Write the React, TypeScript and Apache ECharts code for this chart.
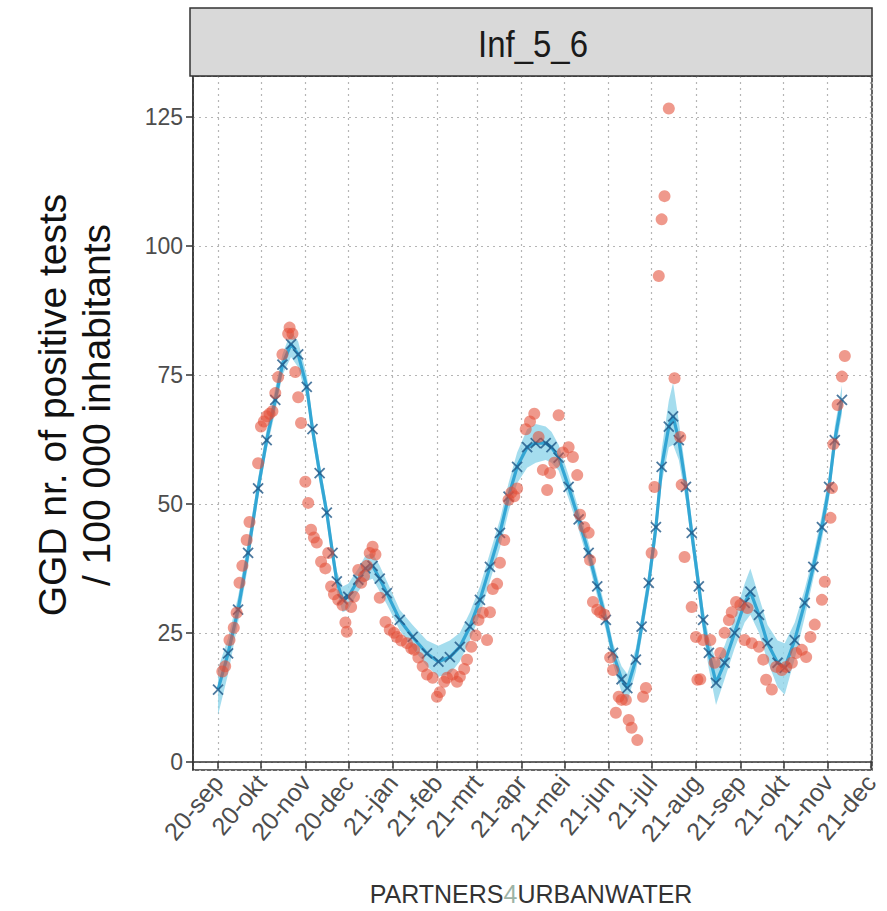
import React, { useEffect, useRef } from "react";
import * as echarts from "echarts";

// ---------- data ----------
const MONTHS = ["jan", "feb", "mrt", "apr", "mei", "jun", "jul", "aug", "sep", "okt", "nov", "dec"];
const yTickValues = [0, 25, 50, 75, 100, 125];
const panelTitle = "Inf_5_6";
const yTitle = "GGD nr. of positive tests\n/ 100 000 inhabitants";

// observed GGD values (red dots)
const obsDates = [
  "2020-09-04", "2020-09-06", "2020-09-09", "2020-09-12", "2020-09-14", "2020-09-16", "2020-09-18", "2020-09-21",
  "2020-09-23", "2020-09-29", "2020-10-01", "2020-10-03", "2020-10-05", "2020-10-07", "2020-10-09", "2020-10-11",
  "2020-10-13", "2020-10-16", "2020-10-20", "2020-10-21", "2020-10-23", "2020-10-25", "2020-10-27", "2020-10-29",
  "2020-11-01", "2020-11-03", "2020-11-05", "2020-11-07", "2020-11-09", "2020-11-12", "2020-11-15", "2020-11-17",
  "2020-11-19", "2020-11-21", "2020-11-24", "2020-11-27", "2020-11-29", "2020-11-30", "2020-12-03", "2020-12-05",
  "2020-12-08", "2020-12-10", "2020-12-12", "2020-12-14", "2020-12-16", "2020-12-18", "2020-12-20", "2020-12-23",
  "2020-12-27", "2020-12-30", "2021-01-02", "2021-01-04", "2021-01-07", "2021-01-11", "2021-01-14", "2021-01-16",
  "2021-01-19", "2021-01-22", "2021-01-25", "2021-01-29", "2021-02-01", "2021-02-03", "2021-02-06", "2021-02-08",
  "2021-02-12", "2021-02-15", "2021-02-17", "2021-02-20", "2021-02-22", "2021-02-25", "2021-02-28", "2021-03-02",
  "2021-03-05", "2021-03-08", "2021-03-10", "2021-03-12", "2021-03-15", "2021-03-17", "2021-03-20", "2021-03-23",
  "2021-03-25", "2021-03-27", "2021-03-29", "2021-04-04", "2021-04-07", "2021-04-10", "2021-04-13", "2021-04-16",
  "2021-04-19", "2021-04-21", "2021-04-24", "2021-04-27", "2021-04-30", "2021-05-04", "2021-05-07", "2021-05-10",
  "2021-05-12", "2021-05-15", "2021-05-18", "2021-05-19", "2021-05-21", "2021-05-24", "2021-05-26", "2021-05-29",
  "2021-06-02", "2021-06-04", "2021-06-06", "2021-06-08", "2021-06-10", "2021-06-13", "2021-06-15", "2021-06-17",
  "2021-06-21", "2021-06-25", "2021-06-27", "2021-07-01", "2021-07-03", "2021-07-06", "2021-07-08", "2021-07-10",
  "2021-07-13", "2021-07-17", "2021-07-21", "2021-07-22", "2021-07-24", "2021-07-29", "2021-08-01", "2021-08-02",
  "2021-08-04", "2021-08-06", "2021-08-11", "2021-08-14", "2021-08-18", "2021-08-21", "2021-08-24", "2021-08-26",
  "2021-08-29", "2021-09-01", "2021-09-04", "2021-09-06", "2021-09-09", "2021-09-14", "2021-09-17", "2021-09-19",
  "2021-09-23", "2021-09-26", "2021-09-30", "2021-10-03", "2021-10-07", "2021-10-10", "2021-10-14", "2021-10-17",
  "2021-10-20", "2021-10-23", "2021-10-28", "2021-10-30", "2021-11-03", "2021-11-04", "2021-11-05", "2021-11-08",
  "2021-11-11", "2021-11-13",
];
const obsValues = [
  17.5, 18.5, 23.6, 26, 28.9, 34.7, 38, 43,
  46.5, 57.9, 65, 66, 67, 67.5, 68, 71.5,
  74.6, 79, 83, 84.2, 83, 75.6, 70.7, 65.7,
  54.3, 50.2, 45, 43.5, 42.5, 38.8, 37.5, 40.5,
  34, 32.5, 31.4, 30.4, 27, 25.2, 30, 32,
  37.2, 34.7, 36, 38, 40.5, 41.7, 40.2, 31.8,
  27.1, 25.6, 25, 24.2, 23.5, 23, 22, 21.7,
  20.2, 18.5, 16.9, 16.3, 12.6, 13.5, 15.5, 16.3,
  16.9, 15.5, 16.5, 18, 19.8, 22.3, 24.5, 27.5,
  28.9, 23.6, 29, 33.5, 34.5, 38.6, 43, 50.8,
  52.2, 51.5, 53, 64.5, 66, 67.5, 63, 56.6,
  52.7, 56, 58, 67.2, 60, 61, 59.1, 55.6,
  47.9, 45.5, 44.4, 39.1, 31, 29.5, 29, 28.5,
  20.2, 17.8, 9.5, 12.6, 12, 12, 8.1, 6.6,
  4.2, 12.6, 14.3, 40.5, 53.3, 94.2, 105.2, 109.7,
  126.7, 74.4, 63, 53.7, 39.7, 30, 24.2, 15.9,
  16, 23.6, 23.6, 19.2, 21.1, 25, 27.5, 29,
  31, 30.4, 23.6, 29.8, 23, 22.3, 19.8, 15.9,
  14, 18.4, 17.8, 18.4, 19.2, 21.1, 21.7, 20.3,
  24.2, 26.6, 31.4, 34.9, 47.3, 53.1, 61.6, 69.2,
  74.7, 78.7,
];

// model fit (blue line with crosses) and its uncertainty band
const modelDates = [
  "2020-09-01", "2020-09-08", "2020-09-15", "2020-09-22", "2020-09-29", "2020-10-05", "2020-10-11", "2020-10-16",
  "2020-10-22", "2020-10-27", "2020-11-02", "2020-11-06", "2020-11-11", "2020-11-16", "2020-11-20", "2020-11-23",
  "2020-11-27", "2020-12-01", "2020-12-08", "2020-12-13", "2020-12-18", "2020-12-23", "2020-12-28", "2021-01-06",
  "2021-01-15", "2021-01-25", "2021-02-02", "2021-02-10", "2021-02-17", "2021-02-24", "2021-03-03", "2021-03-10",
  "2021-03-17", "2021-03-23", "2021-03-29", "2021-04-05", "2021-04-11", "2021-04-18", "2021-04-22", "2021-04-27",
  "2021-05-04", "2021-05-11", "2021-05-18", "2021-05-24", "2021-05-30", "2021-06-04", "2021-06-10", "2021-06-14",
  "2021-06-20", "2021-06-24", "2021-06-29", "2021-07-04", "2021-07-08", "2021-07-13", "2021-07-16", "2021-07-20",
  "2021-07-25", "2021-07-29", "2021-08-03", "2021-08-06", "2021-08-10", "2021-08-15", "2021-08-21", "2021-08-28",
  "2021-09-04", "2021-09-08", "2021-09-14", "2021-09-20", "2021-09-27", "2021-10-02", "2021-10-09", "2021-10-16",
  "2021-10-22", "2021-10-28", "2021-11-02", "2021-11-06", "2021-11-11",
];
const modelValues = [
  14, 21, 29.5, 40.5, 53, 62.4, 70.2, 77,
  81, 79, 72.7, 64.5, 56, 48.3, 40.5, 35,
  31.5, 32, 35.3, 37.5, 38, 35.5, 32.7, 27.5,
  24.2, 21, 19.4, 20.3, 22.3, 26.2, 31.4, 37.8,
  44.4, 51.4, 57.2, 61, 61.8, 61.8, 61, 59,
  53.3, 47, 40.5, 34, 27.5, 21.1, 16, 14.3,
  19.8, 26.2, 34.7, 45.5, 57.2, 65, 67, 62.4,
  53.3, 44.4, 34, 27.5, 21.1, 15.3, 19.2, 25,
  30.8, 33, 28.5, 23, 19.2, 18.2, 23.6, 30.8,
  37.8, 45.5, 53.3, 62.4, 70.2,
];
const modelLower = [
  9, 17, 27, 38, 51, 60.5, 68, 75,
  78.5, 76.5, 70.5, 62.5, 54, 46.5, 38.5, 33,
  29, 29.5, 33, 35, 35.5, 33, 30.5, 25.5,
  22, 18.5, 16.5, 17, 19.5, 23.5, 28.5, 35,
  41.5, 48.5, 54, 57, 58, 58.5, 58, 56.5,
  51, 45, 38.5, 32, 25.5, 19, 13.5, 11.5,
  17.5, 24, 32.5, 43, 54, 61, 61.5, 58.5,
  50.5, 42, 31.5, 25, 18, 11, 16, 22,
  27, 28.5, 25, 19.5, 14.5, 13, 20, 28,
  35.5, 43, 51, 60, 67.5,
];
const modelUpper = [
  18, 24, 32, 43, 55, 64.5, 72.5, 79,
  83.5, 81.5, 75, 66.5, 58, 50, 42.5, 37,
  34, 34.5, 37.5, 40, 40.5, 38, 35, 29.5,
  26.5, 23.5, 22.5, 23.5, 25, 29, 34, 40.5,
  47, 54, 60, 64.5, 65.5, 65, 64, 61.5,
  55.5, 49, 42.5, 36, 29.5, 23, 18.5, 17,
  22, 28.5, 37, 48, 60.5, 70, 73.5, 66,
  56, 47, 36.5, 30, 24, 19.5, 22.5, 28,
  34.5, 37.5, 32, 26.5, 23.5, 23, 27, 33.5,
  40, 48, 55.5, 65, 73,
];

const X_MIN = "2020-08-14 12:00";
const X_MAX = "2021-12-02 00:00";

const FONT = '"Liberation Sans", Arial, Helvetica, sans-serif';

export default function App() {
  const ref = useRef<HTMLDivElement>(null);

  useEffect(() => {
    if (!ref.current) return;
    const chart = echarts.init(ref.current, undefined, { renderer: "svg" });

    const obsData = obsDates.map((d, i) => [d, obsValues[i]]);
    const modelData = modelDates.map((d, i) => [d, modelValues[i]]);
    const lowerData = modelDates.map((d, i) => [d, modelLower[i]]);
    const bandData = modelDates.map((d, i) => [d, modelUpper[i] - modelLower[i]]);

    const option: any = {
      animation: false,
      backgroundColor: "#ffffff",
      textStyle: { fontFamily: FONT },
      grid: {
        left: 193,
        right: 15,
        top: 76,
        bottom: 141,
        show: true,
        borderColor: "#333333",
        borderWidth: 1.5,
        backgroundColor: "#ffffff",
        containLabel: false,
        outerBoundsMode: "none",
      },
      xAxis: {
        type: "time",
        min: X_MIN,
        max: X_MAX,
        splitNumber: 15,
        minInterval: 28 * 86400000,
        maxInterval: 31 * 86400000,
        axisLine: { show: true, lineStyle: { color: "#333333", width: 1.5 } },
        axisTick: { show: true, length: 7, lineStyle: { color: "#333333", width: 1.5 } },
        axisLabel: {
          rotate: 50,
          margin: 8,
          fontSize: 25,
          color: "#4d4d4d",
          fontFamily: FONT,
          hideOverlap: false,
          showMinLabel: false,
          showMaxLabel: false,
          formatter: (v: number) => {
            const d = new Date(v);
            if (d.getDate() !== 1 || d.getHours() !== 0) return "";
            return String(d.getFullYear()).slice(2) + "-" + MONTHS[d.getMonth()];
          },
        },
        splitLine: { show: true, lineStyle: { color: "#b5b5b5", width: 1.2, type: [2, 4] } },
        minorTick: { show: false },
      },
      yAxis: {
        type: "value",
        min: -1.6,
        max: 133,
        minInterval: 25,
        maxInterval: 25,
        axisLine: { show: true, lineStyle: { color: "#333333", width: 1.5 } },
        axisTick: { show: true, length: 7, lineStyle: { color: "#333333", width: 1.5 } },
        axisLabel: {
          margin: 10,
          fontSize: 23,
          color: "#4d4d4d",
          fontFamily: FONT,
          showMinLabel: false,
          showMaxLabel: false,
          formatter: (v: number) => (yTickValues.indexOf(Math.round(v * 100) / 100) >= 0 ? String(v) : ""),
        },
        splitLine: { show: true, lineStyle: { color: "#b5b5b5", width: 1.2, type: [2, 4] } },
      },
      series: [
        {
          type: "line",
          name: "lower",
          data: lowerData,
          stack: "ci",
          symbol: "none",
          lineStyle: { opacity: 0 },
          silent: true,
          z: 2,
        },
        {
          type: "line",
          name: "band",
          data: bandData,
          stack: "ci",
          symbol: "none",
          lineStyle: { opacity: 0 },
          areaStyle: { color: "#8fd4ea", opacity: 0.8 },
          silent: true,
          z: 2,
        },
        {
          type: "line",
          name: "model",
          data: modelData,
          symbol: "none",
          lineStyle: { color: "#33a6d4", width: 3.2 },
          z: 3,
        },
        {
          type: "scatter",
          name: "model points",
          data: modelData,
          symbol: "path://M0,0L10,10M10,0L0,10",
          symbolSize: 10,
          symbolKeepAspect: true,
          itemStyle: { color: "rgba(0,0,0,0)", borderColor: "#1f5887", borderWidth: 1.8 },
          z: 4,
        },
        {
          type: "scatter",
          name: "GGD",
          data: obsData,
          symbol: "circle",
          symbolSize: 12,
          itemStyle: { color: "rgba(228,78,55,0.72)" },
          z: 5,
        },
      ],
      graphic: [
        {
          type: "rect",
          shape: { x: 190, y: 8, width: 682, height: 68 },
          style: { fill: "#d9d9d9", stroke: "#333333", lineWidth: 1.5 },
          z: 10,
        },
        {
          type: "text",
          x: 533,
          y: 44,
          scaleY: 1.12,
          style: {
            text: panelTitle,
            font: `33px ${FONT}`,
            fill: "#1a1a1a",
            align: "center",
            verticalAlign: "middle",
          },
          z: 11,
        },
        {
          type: "text",
          x: 74,
          y: 405,
          rotation: Math.PI / 2,
          style: {
            text: yTitle,
            font: `39px ${FONT}`,
            fill: "#111111",
            align: "center",
            verticalAlign: "middle",
            lineHeight: 44,
          },
          z: 11,
        },
        {
          type: "text",
          x: 531,
          y: 894,
          style: {
            text: "{a|PARTNERS}{b|4}{a|URBANWATER}",
            font: `25px ${FONT}`,
            align: "center",
            verticalAlign: "middle",
            rich: {
              a: { fill: "#333333", font: `25px ${FONT}` },
              b: { fill: "#9db3a6", font: `25px ${FONT}` },
            },
          },
          z: 11,
        },
      ],
    };

    chart.setOption(option);
    return () => chart.dispose();
  }, []);

  return (
    <div
      ref={ref}
      style={{ position: "fixed", left: 0, top: 0, width: 887, height: 911, background: "#fff" }}
    />
  );
}
